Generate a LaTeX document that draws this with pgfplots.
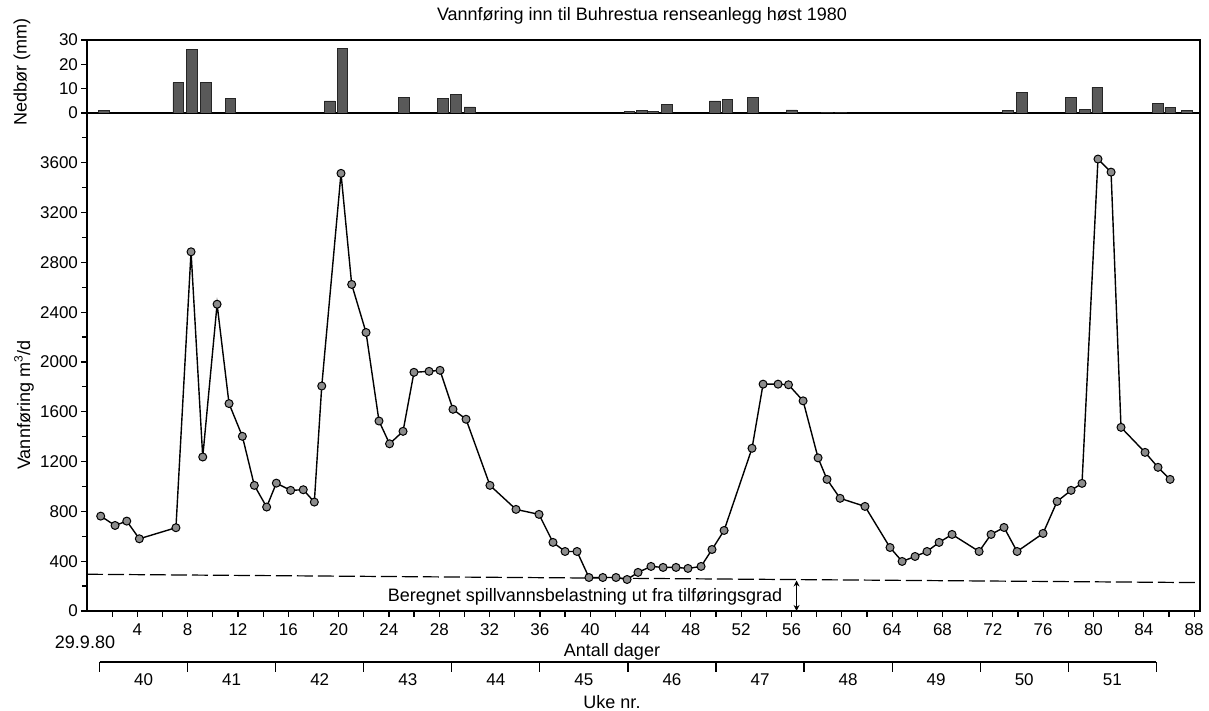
\documentclass[border=0pt]{standalone}
\usepackage{fontspec}
\setmainfont{Liberation Sans}
\usepackage{pgfplots}
\pgfplotsset{compat=1.18}
\usetikzlibrary{arrows.meta}

\pgfplotstableread{
day val
1.09 762
2.23 687
3.16 722
4.16 580
7.07 669
8.27 2885
9.20 1237
10.34 2464
11.29 1666
12.35 1403
13.30 1009
14.28 835
15.05 1027
16.19 969
17.19 974
18.07 875
18.66 1807
20.19 3515
21.04 2623
22.18 2237
23.21 1526
24.05 1343
25.12 1443
25.99 1917
27.19 1925
28.06 1933
29.09 1620
30.13 1540
32.03 1009
34.10 816
35.93 776
37.04 551
38.00 478
38.95 478
39.90 269
41.00 269
42.05 269
42.93 253
43.80 310
44.83 358
45.79 350
46.82 350
47.77 342
48.81 358
49.68 494
50.64 647
52.86 1307
53.74 1822
54.93 1822
55.76 1817
56.92 1688
58.11 1230
58.82 1057
59.86 905
61.84 840
63.83 510
64.79 398
65.82 438
66.77 478
67.73 551
68.76 615
70.91 478
71.86 615
72.89 671
73.93 478
75.99 623
77.11 880
78.22 969
79.09 1025
80.36 3630
81.40 3525
82.19 1475
84.10 1274
85.13 1154
86.09 1057
}\flowdata

\pgfplotstableread{
day mm
1.35 1
7.25 12.5
8.35 26
9.45 12.5
11.4 6
19.3 5
20.3 26.5
25.2 6.5
28.3 6
29.3 7.5
30.4 2.5
43.1 0.5
44.1 1.1
45.0 0.6
46.1 3.5
49.9 5
50.9 5.5
52.9 6.5
56.0 1.3
58.8 0.4
59.9 0.4
73.2 1
74.3 8.5
78.2 6.5
79.3 1.4
80.3 10.5
85.1 4
86.1 2.3
87.4 1.1
}\raindata

\begin{document}
\begin{tikzpicture}[x=1pt,y=1pt,font=\fontsize{9}{10.8}\selectfont]
\useasboundingbox (0,0) rectangle (604.5,355.5);
\pgfplotsset{every axis/.append style={
  scale only axis,
  font=\fontsize{9}{10.8}\selectfont,
  /pgf/number format/assume math mode=true,
  /pgf/number format/1000 sep={},
  tick style={black, line width=0.6pt},
  axis line style={black, line width=0.7pt},
  tick label style={font=\fontsize{8.5}{10}\selectfont},
  tick align=outside,
  major tick length=3pt,
  minor tick length=2.5pt,
}}

% main flow axis
\begin{axis}[
  at={(43.5pt,50pt)}, anchor=south west,
  width=556.5pt, height=249pt,
  xmin=0, xmax=88.47, ymin=0, ymax=4000,
  clip=false,
  xtick={2,4,...,88},
  xticklabels={,4,,8,,12,,16,,20,,24,,28,,32,,36,,40,,44,,48,,52,,56,,60,,64,,68,,72,,76,,80,,84,,88},
  ytick={0,400,...,3600},
  minor ytick={200,600,...,3800},
  xtick pos=lower, ytick pos=left,
  yticklabel style={xshift=2pt},
]
\addplot[black, line width=0.6pt, dash pattern=on 8pt off 2.5pt] coordinates {(0,295) (88.47,228)};
\addplot[black, line width=0.7pt, mark=*, mark size=2pt,
  mark options={fill=black!45, draw=black, line width=0.5pt}]
  table[x=day, y=val] {\flowdata};
\draw[{Stealth[length=3pt,width=3pt]}-{Stealth[length=3pt,width=3pt]}, line width=0.6pt]
  (axis cs:56.4,245) -- (axis cs:56.4,0);
\end{axis}

% precipitation axis
\begin{axis}[
  at={(43.5pt,299pt)}, anchor=south west,
  width=556.5pt, height=36.5pt,
  xmin=0, xmax=88.47, ymin=0, ymax=30,
  xtick=\empty,
  ytick={0,10,20,30},
  ytick pos=left,
  yticklabel style={xshift=2pt},
]
\addplot[ybar, bar width=0.85, fill=black!65, draw=black!85, line width=0.3pt]
  table[x=day, y=mm] {\raindata};
\end{axis}

% week axis
\begin{axis}[
  at={(49.79pt,24.5pt)}, anchor=south west,
  width=528.36pt, height=1pt,
  xmin=1, xmax=85, ymin=0, ymax=1,
  axis x line*=bottom,
  hide y axis,
  xtick={1,8,...,85},
  x tick label as interval,
  xticklabels={40,41,42,43,44,45,46,47,48,49,50,51},
  xticklabel style={yshift=2.5pt},
  major tick length=5pt,
]
\addplot[draw=none] coordinates {(1,0) (85,0)};
\end{axis}

% texts
\node at (321,347.5) {Vannføring inn til Buhrestua renseanlegg høst 1980};
\node[rotate=90] at (11,319.5) {Nedbør (mm)};
\node[rotate=90] at (12,153) {Vannføring m\textsuperscript{3}/d};
\node at (292.5,57) {Beregnet spillvannsbelastning ut fra tilføringsgrad};
\node at (42.5,34.5) {29.9.80};
\node at (306,29.5) {Antall dager};
\node at (306,4.5) {Uke nr.};
\end{tikzpicture}
\end{document}
